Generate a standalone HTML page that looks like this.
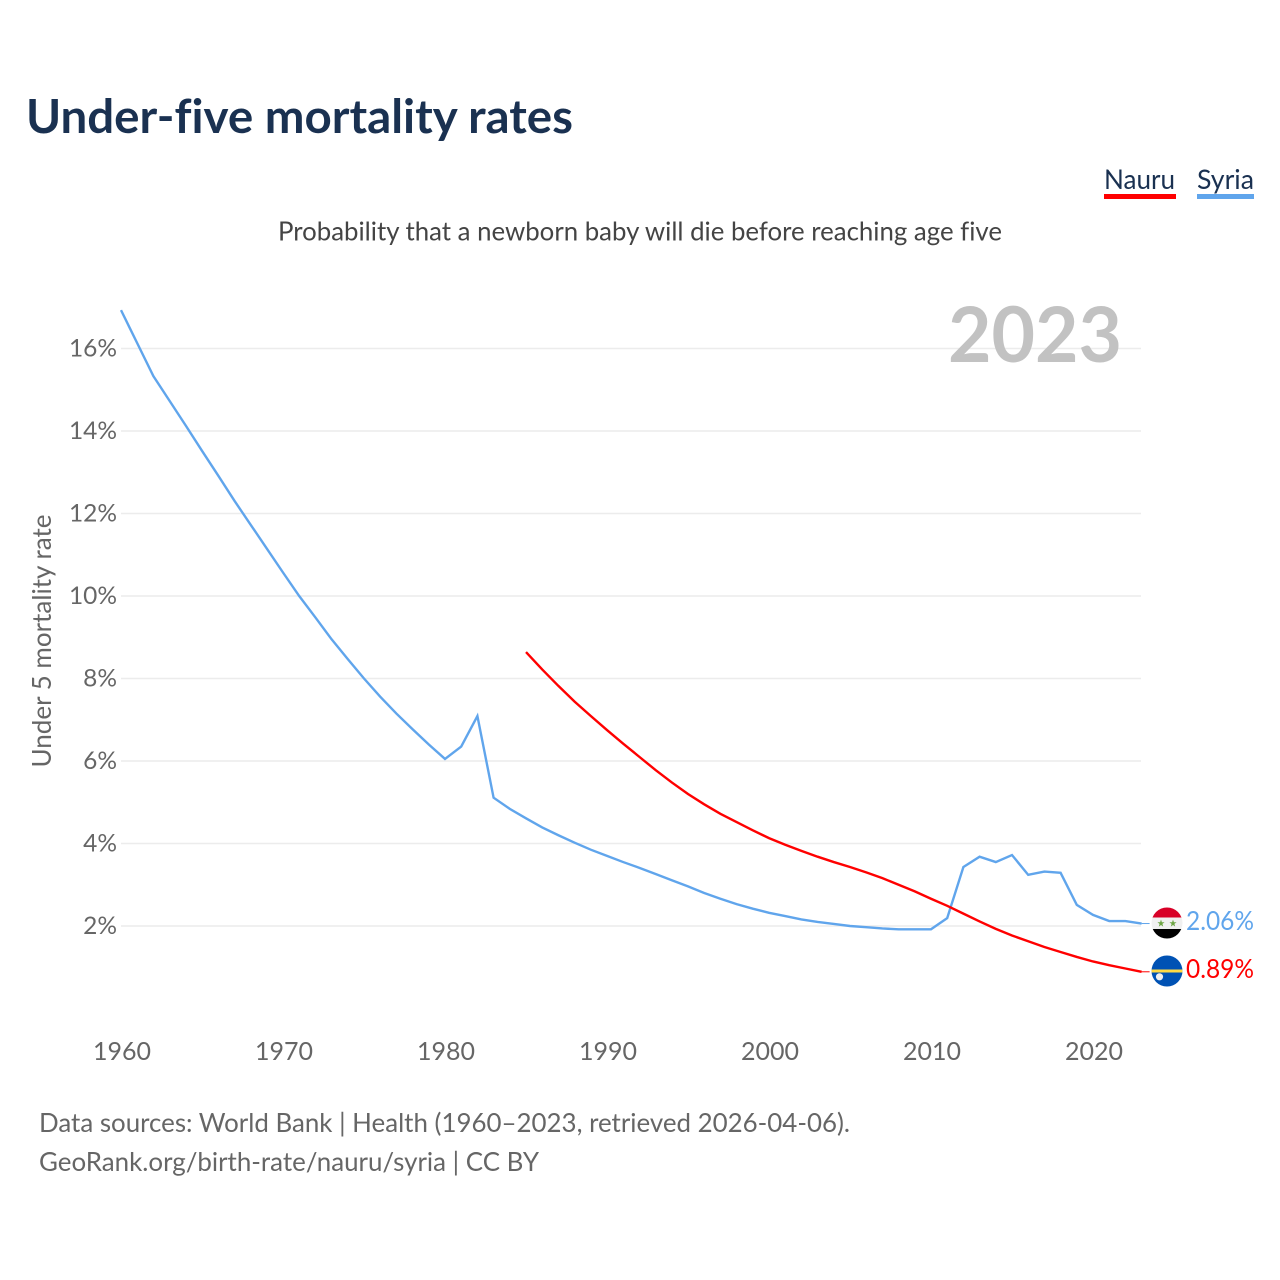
<!DOCTYPE html>
<html lang="en">
<head>
<meta charset="utf-8">
<title>Under-five mortality rates</title>
<style>
  html, body { margin: 0; padding: 0; background: #ffffff; }
  svg { display: block; }
  text { font-family: "Lato", "Carlito", "Liberation Sans", sans-serif; font-variant-ligatures: none; }
</style>
</head>
<body>
<svg id="chart" xmlns="http://www.w3.org/2000/svg" width="1280" height="1280" viewBox="0 0 1280 1280">
  <rect x="0" y="0" width="1280" height="1280" fill="#ffffff"/>
  <text x="26" y="133" font-size="47" font-weight="700" fill="#1a3151" textLength="547" lengthAdjust="spacingAndGlyphs">Under-five mortality rates</text>
  <text x="278" y="240.5" font-size="26" fill="#444444" textLength="724" lengthAdjust="spacingAndGlyphs">Probability that a newborn baby will die before reaching age five</text>

  <g>
    <g>
      <text x="1104" y="189" font-size="27" fill="#1a3151" textLength="71" lengthAdjust="spacingAndGlyphs">Nauru</text>
      <rect x="1104" y="194" width="72" height="5" fill="#ff0000"/>
    </g>
    <g>
      <text x="1197" y="189" font-size="27" fill="#1a3151" textLength="57" lengthAdjust="spacingAndGlyphs">Syria</text>
      <rect x="1197" y="194" width="57" height="5" fill="#60a5ec"/>
    </g>
  </g>

  <text transform="translate(51 641) rotate(-90)" text-anchor="middle" font-size="26" fill="#666666" textLength="253" lengthAdjust="spacingAndGlyphs">Under 5 mortality rate</text>

  <g id="grid"></g>
  <g id="yticks"></g>
  <g id="xticks"></g>

  <text x="948" y="362" font-size="77" font-weight="700" fill="#c2c2c2" textLength="174" lengthAdjust="spacingAndGlyphs">2023</text>

  <g id="series"></g>

  <defs>
    <clipPath id="clip-syria"><circle cx="1167" cy="923" r="15.5"/></clipPath>
    <clipPath id="clip-nauru"><circle cx="1167" cy="971" r="15.5"/></clipPath>
  </defs>
  <g clip-path="url(#clip-syria)">
    <rect x="1151" y="907" width="32" height="10.5" fill="#d80027"/>
    <rect x="1151" y="917.5" width="32" height="11.5" fill="#f0f0f0"/>
    <rect x="1151" y="929" width="32" height="11" fill="#000000"/>
    <polygon points="1161,919.6 1161.9,922.3 1164.6,922.3 1162.4,923.9 1163.2,926.6 1161,925 1158.8,926.6 1159.6,923.9 1157.4,922.3 1160.1,922.3" fill="#6da544"/>
    <polygon points="1173,919.6 1173.9,922.3 1176.6,922.3 1174.4,923.9 1175.2,926.6 1173,925 1170.8,926.6 1171.6,923.9 1169.4,922.3 1172.1,922.3" fill="#6da544"/>
  </g>
  <g clip-path="url(#clip-nauru)">
    <rect x="1151" y="955" width="32" height="32" fill="#0052b4"/>
    <rect x="1151" y="969.5" width="32" height="3" fill="#ffda44"/>
    <circle cx="1159.5" cy="976.8" r="3.6" fill="#f0f0f0"/>
  </g>

  <text id="label-syria" x="1186" y="930" font-size="26" fill="#60a5ec" textLength="68" lengthAdjust="spacingAndGlyphs">2.06%</text>
  <text id="label-nauru" x="1186" y="978" font-size="26" fill="#ff0000" textLength="68" lengthAdjust="spacingAndGlyphs">0.89%</text>

  <text x="39" y="1132" font-size="26" fill="#666666" textLength="811" lengthAdjust="spacingAndGlyphs">Data sources: World Bank | Health (1960–2023, retrieved 2026-04-06).</text>
  <text x="39" y="1171" font-size="26" fill="#666666" textLength="500" lengthAdjust="spacingAndGlyphs">GeoRank.org/birth-rate/nauru/syria | CC BY</text>
</svg>

<script>
const yTickValues = [2, 4, 6, 8, 10, 12, 14, 16];
const xTickYears = [1960, 1970, 1980, 1990, 2000, 2010, 2020];

const syriaStartYear = 1960;
const syriaValues = [
  16.93, 16.13, 15.33, 14.73, 14.13, 13.52, 12.92, 12.31, 11.73, 11.15,
  10.57, 10.00, 9.48, 8.95, 8.47, 8.00, 7.56, 7.15, 6.77, 6.40,
  6.05, 6.35, 7.09, 5.11, 4.84, 4.61, 4.39, 4.20, 4.02, 3.85,
  3.70, 3.55, 3.41, 3.26, 3.11, 2.96, 2.80, 2.66, 2.53, 2.42,
  2.32, 2.24, 2.16, 2.10, 2.05, 2.00, 1.97, 1.94, 1.92, 1.92,
  1.92, 2.19, 3.43, 3.68, 3.55, 3.72, 3.24, 3.32, 3.29, 2.51,
  2.27, 2.12, 2.12, 2.06
];

const nauruStartYear = 1985;
const nauruValues = [
  8.64, 8.22, 7.82, 7.44, 7.09, 6.75, 6.42, 6.10, 5.78, 5.48,
  5.20, 4.95, 4.72, 4.52, 4.32, 4.13, 3.97, 3.82, 3.68, 3.55,
  3.43, 3.30, 3.16, 3.00, 2.84, 2.66, 2.49, 2.30, 2.11, 1.93,
  1.77, 1.63, 1.49, 1.37, 1.25, 1.14, 1.05, 0.97, 0.89
];

function xScale(year) { return 121 + (year - 1960) * 16.2; }
function yScale(value) { return 1008.5 - value * 41.25; }

const SVG_NS = 'http://www.w3.org/2000/svg';
const gridGroup = document.getElementById('grid');
const yTickGroup = document.getElementById('yticks');
const xTickGroup = document.getElementById('xticks');
const seriesGroup = document.getElementById('series');

yTickValues.forEach(function (v) {
  const line = document.createElementNS(SVG_NS, 'line');
  
  
  line.setAttribute('x1', 121);
  line.setAttribute('x2', 1141);
  line.setAttribute('y1', yScale(v));
  line.setAttribute('y2', yScale(v));
  line.setAttribute('stroke', '#ececec');
  line.setAttribute('stroke-width', 1.5);
  gridGroup.appendChild(line);

  const label = document.createElementNS(SVG_NS, 'text');
  
  
  label.setAttribute('x', 117);
  label.setAttribute('y', yScale(v) + 8);
  label.setAttribute('text-anchor', 'end');
  label.setAttribute('font-size', 24.5);
  label.setAttribute('fill', '#666666');
  label.textContent = v + '%';
  yTickGroup.appendChild(label);
});

xTickYears.forEach(function (yr) {
  const label = document.createElementNS(SVG_NS, 'text');
  
  
  label.setAttribute('x', xScale(yr) + 1);
  label.setAttribute('y', 1060);
  label.setAttribute('text-anchor', 'middle');
  label.setAttribute('font-size', 25);
  label.setAttribute('fill', '#666666');
  label.textContent = String(yr);
  xTickGroup.appendChild(label);
});

function linePoints(startYear, values) {
  return values.map(function (v, i) {
    return xScale(startYear + i).toFixed(2) + ',' + yScale(v).toFixed(2);
  }).join(' ');
}

const syriaLine = document.createElementNS(SVG_NS, 'polyline');


syriaLine.setAttribute('points', linePoints(syriaStartYear, syriaValues));
syriaLine.setAttribute('fill', 'none');
syriaLine.setAttribute('stroke', '#60a5ec');
syriaLine.setAttribute('stroke-width', 2.4);
seriesGroup.appendChild(syriaLine);

const nauruLine = document.createElementNS(SVG_NS, 'polyline');


nauruLine.setAttribute('points', linePoints(nauruStartYear, nauruValues));
nauruLine.setAttribute('fill', 'none');
nauruLine.setAttribute('stroke', '#ff0000');
nauruLine.setAttribute('stroke-width', 2.4);
seriesGroup.appendChild(nauruLine);

const syriaLast = syriaValues[syriaValues.length - 1];
const nauruLast = nauruValues[nauruValues.length - 1];

const syriaStub = document.createElementNS(SVG_NS, 'line');


syriaStub.setAttribute('x1', xScale(2023));
syriaStub.setAttribute('x2', xScale(2023) + 8);
syriaStub.setAttribute('y1', yScale(syriaLast));
syriaStub.setAttribute('y2', yScale(syriaLast));
syriaStub.setAttribute('stroke', '#60a5ec');
syriaStub.setAttribute('stroke-width', 1);
seriesGroup.appendChild(syriaStub);

const nauruStub = document.createElementNS(SVG_NS, 'line');


nauruStub.setAttribute('x1', xScale(2023));
nauruStub.setAttribute('x2', xScale(2023) + 8);
nauruStub.setAttribute('y1', yScale(nauruLast));
nauruStub.setAttribute('y2', yScale(nauruLast));
nauruStub.setAttribute('stroke', '#ff0000');
nauruStub.setAttribute('stroke-width', 1);
seriesGroup.appendChild(nauruStub);

document.getElementById('label-syria').textContent = syriaLast.toFixed(2) + '%';
document.getElementById('label-nauru').textContent = nauruLast.toFixed(2) + '%';
</script>
</body>
</html>
